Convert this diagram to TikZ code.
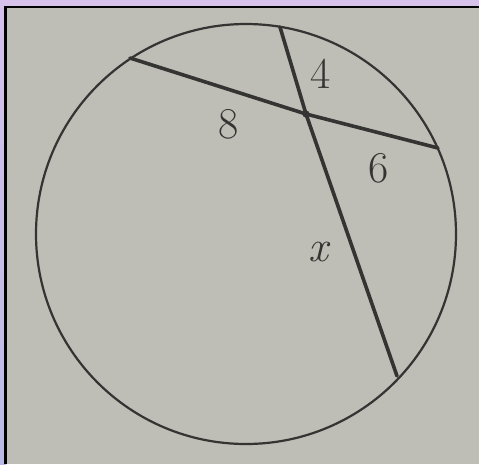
\documentclass[tikz,border=0pt]{standalone}
\usepackage{xcolor}
\definecolor{paper}{RGB}{190,189,182}
\definecolor{ink}{RGB}{52,52,50}
\definecolor{lavtop}{RGB}{214,194,234}
\definecolor{lavbot}{RGB}{186,186,230}
\begin{document}
\begin{tikzpicture}[x=1pt,y=-1pt,
  chordline/.style={draw=ink,line width=3.6pt,line cap=round,line join=round},
  rimline/.style={draw=ink,line width=2.2pt},
  lbl/.style={text=ink,font=\fontsize{44}{44}\selectfont,inner sep=0pt}]
\useasboundingbox (0,0) rectangle (479,464);
% frame
\fill[lavtop] (0,0) rectangle (479,464);
\shade[top color=lavtop,bottom color=lavbot] (0,0) rectangle (6,464);
\fill[paper] (5.5,7) rectangle (479,464);
\draw[black,line width=2.6pt] (5.5,464) -- (5.5,7) -- (479,7);
% circle
\node[circle,rimline,minimum size=420pt,inner sep=0pt] (circ) at (246,234) {};
\coordinate (A) at (130,58);
\coordinate (B) at (438,148);
\coordinate (C) at (280,27);
\coordinate (D) at (397,376);
\coordinate (P) at (306,114);
\draw[chordline] (A) -- (P) -- (B);
\draw[chordline] (C) -- (P) -- (D);
\fill[ink] (P) circle (3.6pt);
% labels
\node[lbl] (l4) at (321,74) {4};
\node[lbl] (l8) at (229,124) {8};
\node[lbl] (l6) at (379,168) {6};
\node[lbl] (lx) at (318,252) {\itshape x};
\end{tikzpicture}
\end{document}
